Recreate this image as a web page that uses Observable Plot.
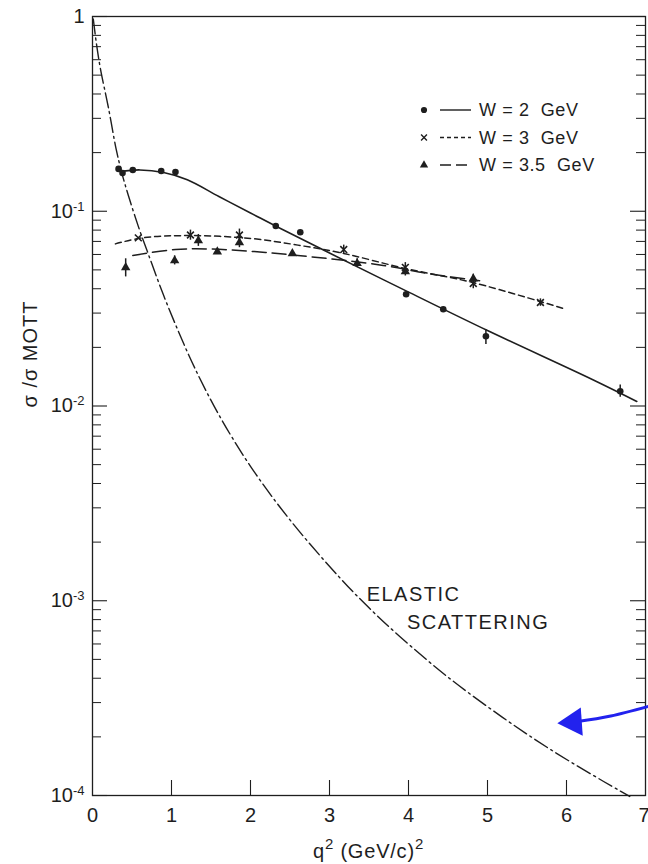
<!DOCTYPE html>
<html><head><meta charset="utf-8">
<script src="https://cdn.jsdelivr.net/npm/d3@7"></script>
<script src="https://cdn.jsdelivr.net/npm/@observablehq/plot@0.6"></script>
<style>
body{margin:0;background:#fff}
#chart{width:648px;height:864px}
</style>
</head><body><div id="chart"></div>
<script>
// ---- data ----
// W = 2 GeV (dots)
const w2PtX = [0.33, 0.38, 0.51, 0.87, 1.05, 2.32, 2.63, 3.97, 4.44, 4.98, 6.68];
const w2PtY = [0.165, 0.157, 0.163, 0.161, 0.159, 0.084, 0.078, 0.0375, 0.0314, 0.0228, 0.0119];
const w2ErrLo = [null, null, null, null, null, null, null, null, null, 0.0207, 0.0111];
const w2ErrHi = [null, null, null, null, null, null, null, null, null, 0.0246, 0.0128];
const w2LineX = [0.35, 0.6, 0.9, 1.2, 1.6, 2.0, 2.38, 3.0, 3.97, 5.0, 6.34, 6.89];
const w2LineY = [0.160, 0.163, 0.158, 0.145, 0.119, 0.098, 0.0815, 0.061, 0.039, 0.0244, 0.0136, 0.01055];

// W = 3 GeV (crosses)
const w3PtX = [0.58, 1.24, 1.86, 3.18, 3.96, 4.82, 5.67];
const w3PtY = [0.073, 0.0755, 0.0755, 0.0636, 0.0515, 0.0426, 0.034];
const w3ErrLo = [null, 0.071, 0.070, 0.0600, 0.0485, 0.0400, 0.0325];
const w3ErrHi = [null, 0.080, 0.081, 0.0670, 0.0545, 0.0455, 0.0355];
const w3LineX = [0.29, 0.63, 1.22, 2.0, 2.6, 3.18, 3.96, 4.82, 5.96];
const w3LineY = [0.068, 0.073, 0.075, 0.0725, 0.067, 0.0607, 0.0508, 0.043, 0.0317];

// W = 3.5 GeV (triangles)
const w35PtX = [0.42, 1.04, 1.34, 1.58, 1.86, 2.53, 3.35, 3.96, 4.82];
const w35PtY = [0.0514, 0.0558, 0.0707, 0.062, 0.069, 0.0607, 0.054, 0.049, 0.045];
const w35ErrLo = [0.0460, 0.0530, 0.0660, null, 0.0650, null, 0.0515, 0.0465, 0.0425];
const w35ErrHi = [0.0570, 0.0590, 0.0760, null, 0.0735, null, 0.0570, 0.0520, 0.0475];
const w35LineX = [0.51, 1.05, 1.5, 2.19, 2.97, 3.68, 4.3, 4.9];
const w35LineY = [0.0593, 0.0636, 0.064, 0.0614, 0.0572, 0.0527, 0.0475, 0.044];

// Elastic scattering curve
const elX = [0.01, 0.05, 0.1, 0.2, 0.3, 0.37, 0.45, 0.58, 0.71, 0.9, 1.1, 1.3, 1.6, 2.0, 2.5, 3.14, 3.5, 3.9, 4.5, 5.19, 5.8, 6.47, 6.8];
const elY = [0.97, 0.725, 0.54, 0.343, 0.208, 0.158, 0.122, 0.0836, 0.0597, 0.037, 0.0235, 0.0155, 0.0090, 0.0049, 0.0026, 0.00130, 0.00092, 0.000650, 0.000405, 0.000252, 0.000172, 0.000118, 0.0000989];

// axes
const xTicks = [0, 1, 2, 3, 4, 5, 6, 7];
const xTickLabels = ["0", "1", "2", "3", "4", "5", "6", "7"];
const yDecades = [1e-4, 1e-3, 1e-2, 1e-1, 1];
const yTickBase = ["10", "10", "10", "10", "1"];
const yTickExp = ["-4", "-3", "-2", "-1", ""];
const yMinorMult = [2, 3, 4, 5, 6, 7, 8, 9];
const xTitleParts = ["q", "2", " (GeV/c)", "2"];
const xTitleSup = [false, true, false, true];
const yTitle = "\u03C3 /\u03C3 MOTT";

// legend
const legendLabels = ["W = 2  GeV", "W = 3  GeV", "W = 3.5  GeV"];

// annotation text and arrow (data coordinates)
const noteLines = ["ELASTIC", "SCATTERING"];
const noteX = [3.47, 3.98];
const noteY = [1.08e-3, 7.7e-4];
const arrowShaftX = [6.14, 6.56, 7.05];
const arrowShaftY = [2.40e-4, 2.56e-4, 2.88e-4];
const arrowHeadX = [6.09];
const arrowHeadY = [2.38e-4];

// ---- build ----
const FONT = "'Liberation Sans', Arial, sans-serif";
const INK = "#1e1e1e";
const W = 648, H = 864, ML = 92, MR = 3, MT = 16, MB = 69;
const FW = W - ML - MR, FH = H - MT - MB;
const pts = (X, Y, L, Hh) => X.map((x, i) => ({x, y: Y[i], lo: L ? L[i] : null, hi: Hh ? Hh[i] : null}));
const w2Pts = pts(w2PtX, w2PtY, w2ErrLo, w2ErrHi);
const w3Pts = pts(w3PtX, w3PtY, w3ErrLo, w3ErrHi);
const w35Pts = pts(w35PtX, w35PtY, w35ErrLo, w35ErrHi);
const line = (X, Y) => X.map((x, i) => ({x, y: Y[i]}));
const yMinor = yDecades.slice(0, -1).flatMap(d => yMinorMult.map(m => m * d));
const errs = [...w2Pts, ...w3Pts, ...w35Pts].filter(d => d.lo != null);

const plot = Plot.plot({
  width: W, height: H,
  marginLeft: ML, marginRight: MR, marginTop: MT, marginBottom: MB,
  style: {fontFamily: FONT, color: INK, background: "#fff", overflow: "visible"},
  x: {domain: [0, 7]},
  y: {type: "log", domain: [1e-4, 1]},
  marks: [
    // inward ticks
    Plot.tickY(yDecades, {y: d => d, insetRight: FW - 15, stroke: INK, strokeWidth: 1.1}),
    Plot.tickY(yMinor, {y: d => d, insetRight: FW - 9, stroke: INK, strokeWidth: 1}),
    Plot.tickY(yDecades, {y: d => d, insetLeft: FW - 15, stroke: INK, strokeWidth: 1.1}),
    Plot.tickY(yMinor, {y: d => d, insetLeft: FW - 9, stroke: INK, strokeWidth: 1}),
    Plot.tickX(xTicks.slice(1, -1), {x: d => d, insetTop: FH - 15, stroke: INK, strokeWidth: 1.1}),
    // tick labels
    Plot.axisY(yDecades, {anchor: "left", tickSize: 0, tickPadding: 8, fontSize: 20, label: null,
      tickFormat: d => yTickBase[yDecades.indexOf(d)]}),
    Plot.axisX(xTicks, {anchor: "bottom", tickSize: 0, tickPadding: 12, fontSize: 20, label: null,
      tickFormat: d => xTickLabels[xTicks.indexOf(d)]}),
    Plot.frame({stroke: INK, strokeWidth: 1.3}),
    // curves
    Plot.line(line(elX, elY), {x: "x", y: "y", stroke: INK, strokeWidth: 1.4, strokeDasharray: "15,4,2,4", curve: "catmull-rom"}),
    Plot.line(line(w2LineX, w2LineY), {x: "x", y: "y", stroke: INK, strokeWidth: 1.6, curve: "catmull-rom"}),
    Plot.line(line(w3LineX, w3LineY), {x: "x", y: "y", stroke: INK, strokeWidth: 1.5, strokeDasharray: "6,4", curve: "catmull-rom"}),
    Plot.line(line(w35LineX, w35LineY), {x: "x", y: "y", stroke: INK, strokeWidth: 1.5, strokeDasharray: "14,6", curve: "catmull-rom"}),
    // error bars
    Plot.ruleX(errs, {x: "x", y1: "lo", y2: "hi", stroke: INK, strokeWidth: 1.5}),
    // points
    Plot.dot(w2Pts, {x: "x", y: "y", r: 3.3, fill: INK, stroke: "none"}),
    Plot.dot(w3Pts, {x: "x", y: "y", r: 3.2, symbol: "times", stroke: INK, strokeWidth: 1.6}),
    Plot.dot(w35Pts, {x: "x", y: "y", r: 3.5, symbol: "triangle", fill: INK, stroke: "none"}),
    // annotation
    Plot.text(noteLines.map((t, i) => ({t, x: noteX[i], y: noteY[i]})), {x: "x", y: "y", text: "t", textAnchor: "start", fontSize: 20, fill: INK}),
    Plot.line(line(arrowShaftX, arrowShaftY), {x: "x", y: "y", stroke: "#2222ee", strokeWidth: 3, curve: "natural"}),
    Plot.dot(line(arrowHeadX, arrowHeadY), {x: "x", y: "y", symbol: "triangle", r: 10.5, rotate: -94, fill: "#2222ee", stroke: "none"})
  ]
});

const svg = d3.select(plot);
// letter spacing of the annotation
svg.selectAll("text").filter(function(){ return noteLines.includes(this.textContent); })
  .attr("letter-spacing", "1.5px");
// superscript exponents on the y tick labels
svg.selectAll('g[aria-label="y-axis tick label"] text').each(function(d, i) {
  const exp = yTickExp[i];
  if (exp) d3.select(this).append("tspan").attr("font-size", 13).attr("dy", "-0.55em").text(exp);
});
// keep the last x label inside the picture
svg.selectAll('g[aria-label="x-axis tick label"] text').filter(function(){ return this.textContent === xTickLabels[xTickLabels.length - 1]; })
  .attr("text-anchor", "end").attr("dx", 4);

// axis titles
const xt = svg.append("text").attr("x", ML + FW / 2).attr("y", 858).attr("text-anchor", "middle")
  .attr("font-family", FONT).attr("font-size", 20).attr("fill", INK).attr("letter-spacing", "0.8px")
  .style("white-space", "pre");
xTitleParts.forEach((t, i) => {
  const sp = xt.append("tspan").text(t);
  if (xTitleSup[i]) sp.attr("font-size", 15).attr("dy", "-0.6em");
  else if (i > 0 && xTitleSup[i - 1]) sp.attr("dy", "0.45em");
});
svg.append("text").attr("transform", `translate(37,${354}) rotate(-90)`).attr("text-anchor", "middle")
  .attr("font-family", FONT).attr("font-size", 20).attr("fill", INK).attr("letter-spacing", "1px")
  .text(yTitle);

// legend inside the plot
const leg = svg.append("g").attr("font-family", FONT).attr("font-size", 18).attr("fill", INK).attr("text-anchor", "start");
const legSyms = [d3.symbolCircle, d3.symbolTimes, d3.symbolTriangle];
const legDash = [null, "4,3", "11,5"];
legendLabels.forEach((lab, i) => {
  const cy = 110 + i * 27.5;
  const p = leg.append("path").attr("transform", `translate(424,${cy})`)
    .attr("d", d3.symbol(legSyms[i], i === 1 ? 24 : 30)());
  if (i === 1) p.attr("fill", "none").attr("stroke", INK).attr("stroke-width", 1.4);
  else p.attr("fill", INK);
  leg.append("line").attr("x1", 440).attr("x2", 471).attr("y1", cy).attr("y2", cy)
    .attr("stroke", INK).attr("stroke-width", 1.4).attr("stroke-dasharray", legDash[i]);
  leg.append("text").attr("x", 479).attr("y", cy).attr("dy", "0.36em").attr("text-anchor", "start")
    .attr("letter-spacing", "0.6px").style("white-space", "pre").text(lab);
});

document.getElementById("chart").appendChild(plot);
</script>
</body></html>
